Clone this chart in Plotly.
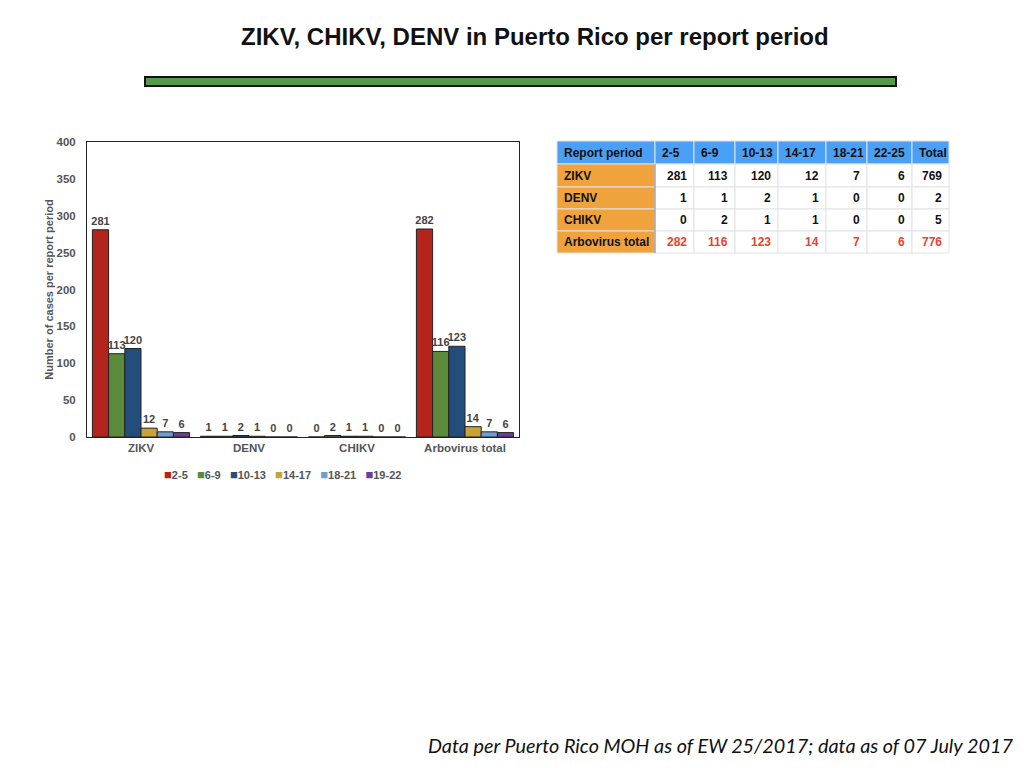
import plotly.graph_objects as go

# Chart data
categories = ["ZIKV", "DENV", "CHIKV", "Arbovirus total"]
periods = ["2-5", "6-9", "10-13", "14-17", "18-21", "19-22"]
values = {
    "2-5": [281, 1, 0, 282],
    "6-9": [113, 1, 2, 116],
    "10-13": [120, 2, 1, 123],
    "14-17": [12, 1, 1, 14],
    "18-21": [7, 0, 0, 7],
    "19-22": [6, 0, 0, 6],
}
bar_colors = ["#b3241c", "#5b8a3a", "#234e7c", "#c9a23a", "#6e9fd3", "#6a3d9a"]

# Table data
table_header = ["Report period", "2-5", "6-9", "10-13", "14-17", "18-21", "22-25", "Total"]
table_rows = ["ZIKV", "DENV", "CHIKV", "Arbovirus total"]
table_values = [
    [281, 113, 120, 12, 7, 6, 769],
    [1, 1, 2, 1, 0, 0, 2],
    [0, 2, 1, 1, 0, 0, 5],
    [282, 116, 123, 14, 7, 6, 776],
]

# page body has an 8px margin, so the figure is a bit smaller and offset
OFF = 8
W, H = 1024 - OFF, 768 - OFF


def fx(px):
    return (px - OFF) / W


def fy(py):
    return 1 - (py - OFF) / H


fig = go.Figure()

for i, p in enumerate(periods):
    fig.add_trace(
        go.Bar(
            name=p,
            x=categories,
            y=values[p],
            marker=dict(color=bar_colors[i], line=dict(color="#222", width=1)),
            text=values[p],
            textposition="outside",
            constraintext="none",
            textfont=dict(family="Liberation Sans", size=11, color="#444", weight="bold"),
            cliponaxis=False,
            showlegend=False,
        )
    )

axis_font = dict(family="Liberation Sans", size=11.5, color="#555", weight="bold")

fig.update_layout(
    width=W,
    height=H,
    margin=dict(l=0, r=0, t=0, b=0, autoexpand=False),
    paper_bgcolor="white",
    plot_bgcolor="white",
    barmode="group",
    bargap=0.1,
    bargroupgap=0,
    xaxis=dict(
        domain=[fx(87), fx(519)],
        showline=True,
        linecolor="#222",
        mirror=True,
        tickfont=axis_font,
        ticks="",
    ),
    yaxis=dict(
        domain=[fy(437), fy(142)],
        range=[0, 400],
        dtick=50,
        showgrid=False,
        showline=True,
        linecolor="#222",
        mirror=True,
        tickfont=axis_font,
        ticklabelstandoff=8,
        title=dict(
            text="Number of cases per report period",
            font=dict(family="Liberation Sans", size=11, color="#555", weight="bold"),
            standoff=0,
        ),
    ),
    font=dict(family="Liberation Sans"),
)

# compact legend row under the chart
legend_text = "   ".join(
    f'<span style="color:{c};font-size:13px">■</span>{p}' for p, c in zip(periods, bar_colors)
)
fig.add_annotation(
    text=legend_text,
    x=fx(282), y=fy(474), xref="paper", yref="paper",
    xanchor="center", yanchor="middle", showarrow=False,
    font=dict(family="Liberation Sans", size=11, color="#555", weight="bold"),
)

# Summary table drawn as cells (header row + 4 data rows)
col_edges = [557, 655, 694, 735, 778, 826, 867, 912, 949]
row_edges = [141, 164, 187, 209, 231, 253]
cell_font = dict(family="Liberation Sans", size=12, color="#111", weight="bold")
for r in range(len(table_rows) + 1):
    y0, y1 = row_edges[r], row_edges[r + 1]
    for c in range(len(table_header)):
        x0, x1 = col_edges[c], col_edges[c + 1]
        if r == 0:
            fill, txt = "#4aa0f7", table_header[c]
        elif c == 0:
            fill, txt = "#f0a23c", table_rows[r - 1]
        else:
            fill, txt = "white", str(table_values[r - 1][c - 1])
        fig.add_shape(
            type="rect", xref="paper", yref="paper",
            x0=fx(x0), x1=fx(x1), y0=fy(y1), y1=fy(y0),
            fillcolor=fill, line=dict(color="#e2e2e2", width=1), layer="below",
        )
        left = r == 0 or c == 0
        color = "#e8432d" if (r == len(table_rows) and c > 0) else "#111"
        fig.add_annotation(
            text=txt,
            x=fx(x0 + 5) if left else fx(x1 - 5),
            y=fy((y0 + y1) / 2), xref="paper", yref="paper",
            xanchor="left" if left else "right", yanchor="middle",
            showarrow=False, font=dict(cell_font, color=color),
        )
# darker rule between the row labels and the numbers
fig.add_shape(
    type="line", xref="paper", yref="paper",
    x0=fx(655), x1=fx(655), y0=fy(253), y1=fy(164),
    line=dict(color="#888", width=1),
)

# Slide title, green rule and footer
fig.add_annotation(
    text="<b>ZIKV, CHIKV, DENV in Puerto Rico per report period</b>",
    x=fx(535), y=fy(37), xref="paper", yref="paper",
    xanchor="center", yanchor="middle",
    showarrow=False, font=dict(family="Liberation Sans", size=24, color="#111"),
)
fig.add_shape(
    type="rect", xref="paper", yref="paper",
    x0=fx(145), x1=fx(896), y0=fy(86), y1=fy(77),
    fillcolor="#55994a", line=dict(color="#111", width=2),
)
fig.add_annotation(
    text="<i>Data per Puerto Rico MOH as of EW 25/2017; data as of 07 July 2017</i>",
    x=fx(1015), y=fy(745), xref="paper", yref="paper",
    xanchor="right", yanchor="middle", showarrow=False,
    font=dict(family="Lato", size=19.8, color="#111"),
)

fig.write_html("out.html")
